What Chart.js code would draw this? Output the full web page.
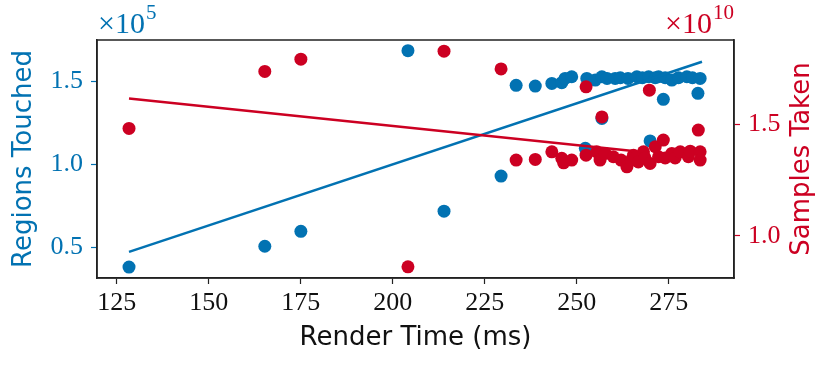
<!DOCTYPE html>
<html>
<head>
<meta charset="utf-8">
<script src="https://cdn.jsdelivr.net/npm/chart.js@4/dist/chart.umd.min.js"></script>
<style>
  html, body { margin: 0; padding: 0; background: #fff; }
</style>
</head>
<body>
<canvas id="chart" width="831" height="367"></canvas>
<script>
// render time (ms) and regions touched (x1e5)
const regionsX = [128.3, 165.2, 175.0, 204.1, 213.9, 229.4, 233.5, 238.7, 243.2, 245.9, 246.8, 248.6,
  252.3, 252.7, 255.0, 256.8, 256.8, 258.2, 260.4, 261.8, 263.9, 266.3, 267.8, 269.5, 269.9, 271.3,
  272.2, 273.5, 274.0, 275.8, 277.6, 279.9, 281.4, 282.9, 283.5];
const regionsY = [0.381, 0.506, 0.596, 1.683, 0.717, 0.928, 1.474, 1.470, 1.486, 1.490, 1.516, 1.526,
  1.095, 1.516, 1.506, 1.526, 1.275, 1.516, 1.516, 1.520, 1.516, 1.526, 1.520, 1.526, 1.140, 1.520,
  1.526, 1.390, 1.520, 1.506, 1.520, 1.526, 1.520, 1.426, 1.516];

// render time (ms) and samples taken (x1e10)
const samplesX = [128.3, 165.2, 175.0, 204.1, 213.9, 229.4, 233.5, 238.7, 243.2, 245.9, 246.4, 248.6,
  252.5, 252.5, 255.4, 256.3, 256.8, 257.7, 259.9, 262.0, 263.6, 264.8, 265.4, 266.7, 268.1, 268.5,
  269.7, 269.9, 271.3, 272.2, 273.5, 274.0, 275.8, 276.7, 278.1, 280.3, 280.8, 283.0, 283.5, 283.5];
const samplesY = [1.482, 1.738, 1.793, 0.861, 1.829, 1.749, 1.340, 1.343, 1.377, 1.348, 1.328, 1.340,
  1.669, 1.362, 1.377, 1.340, 1.534, 1.370, 1.355, 1.340, 1.310, 1.340, 1.362, 1.332, 1.377, 1.350,
  1.654, 1.325, 1.400, 1.355, 1.430, 1.350, 1.370, 1.350, 1.377, 1.355, 1.380, 1.475, 1.377, 1.340];

// fitted trend lines (end points)
const regionsFitX = [128.3, 284.0];
const regionsFitY = [0.472, 1.616];
const samplesFitX = [128.3, 265.3];
const samplesFitY = [1.617, 1.381];

const xTicks = [125, 150, 175, 200, 225, 250, 275];
const leftTicks = [0.5, 1.0, 1.5];
const rightTicks = [1.0, 1.5];

const BLUE = '#0272b2';
const RED = '#cc0022';

const pts = (xs, ys) => xs.map((x, i) => ({ x: x, y: ys[i] }));

const extras = {
  id: 'extras',
  afterDraw(chart) {
    const ctx = chart.ctx;
    const a = chart.chartArea;
    ctx.save();
    ctx.strokeStyle = '#222';
    ctx.lineWidth = 1.5;
    ctx.strokeRect(a.left, a.top, a.right - a.left, a.bottom - a.top);

    // exponent labels
    ctx.textBaseline = 'alphabetic';
    ctx.textAlign = 'left';
    ctx.font = '30px "Liberation Serif"';
    ctx.fillStyle = BLUE;
    ctx.fillText('×10', a.left + 1, a.top - 7);
    let w = ctx.measureText('×10').width;
    ctx.font = '21px "Liberation Serif"';
    ctx.fillText('5', a.left + 1 + w + 1, a.top - 21);

    ctx.fillStyle = RED;
    const w2 = ctx.measureText('10').width;
    ctx.font = '30px "Liberation Serif"';
    w = ctx.measureText('×10').width;
    const x0 = a.right - w - w2 - 1;
    ctx.fillText('×10', x0, a.top - 7);
    ctx.font = '21px "Liberation Serif"';
    ctx.fillText('10', x0 + w + 1, a.top - 21);

    // right axis title, reading bottom to top
    ctx.translate(802, (a.top + a.bottom) / 2);
    ctx.rotate(-Math.PI / 2);
    ctx.textAlign = 'center';
    ctx.textBaseline = 'middle';
    ctx.font = '26px "DejaVu Sans"';
    ctx.fillText('Samples Taken', 0, 0);
    ctx.restore();
  }
};

new Chart(document.getElementById('chart').getContext('2d'), {
  type: 'scatter',
  data: {
    datasets: [
      { data: pts(regionsX, regionsY), yAxisID: 'y', backgroundColor: BLUE, pointRadius: 6.5, borderWidth: 0, order: 4 },
      { data: pts(regionsFitX, regionsFitY), yAxisID: 'y', showLine: true, borderColor: BLUE, borderWidth: 2.5, pointRadius: 0, order: 3 },
      { data: pts(samplesX, samplesY), yAxisID: 'y2', backgroundColor: RED, pointRadius: 6.5, borderWidth: 0, order: 2 },
      { data: pts(samplesFitX, samplesFitY), yAxisID: 'y2', showLine: true, borderColor: RED, borderWidth: 2.5, pointRadius: 0, order: 1 }
    ]
  },
  options: {
    responsive: false,
    animation: false,
    layout: { padding: { top: 40, left: 0, right: 0, bottom: 0 } },
    plugins: { legend: { display: false }, tooltip: { enabled: false } },
    scales: {
      x: {
        type: 'linear', min: 119.6, max: 292.7,
        afterBuildTicks: s => { s.ticks = xTicks.map(v => ({ value: v })); },
        afterFit: s => { s.height = 89; },
        grid: { drawOnChartArea: false, tickLength: 6, tickColor: '#222', tickWidth: 1.2 },
        border: { color: '#222', width: 1.5 },
        ticks: { color: '#111', padding: 4, font: { family: 'Liberation Serif', size: 26 } },
        title: { display: true, text: 'Render Time (ms)', color: '#111', padding: { bottom: 13, top: 0 },
          font: { family: 'DejaVu Sans', size: 26 } }
      },
      y: {
        type: 'linear', position: 'left', min: 0.315, max: 1.747,
        afterBuildTicks: s => { s.ticks = leftTicks.map(v => ({ value: v })); },
        afterFit: s => { s.width = 97; },
        grid: { drawOnChartArea: false, tickLength: 6, tickColor: BLUE, tickWidth: 1.2 },
        border: { color: '#222', width: 1.5 },
        ticks: { color: BLUE, padding: 8, callback: v => v.toFixed(1), font: { family: 'Liberation Serif', size: 26 } },
        title: { display: true, text: 'Regions Touched', color: BLUE, padding: { top: 9, bottom: 0 },
          font: { family: 'DejaVu Sans', size: 26 } }
      },
      y2: {
        type: 'linear', position: 'right', min: 0.811, max: 1.879,
        afterBuildTicks: s => { s.ticks = rightTicks.map(v => ({ value: v })); },
        afterFit: s => { s.width = 97; },
        grid: { drawOnChartArea: false, tickLength: 6, tickColor: RED, tickWidth: 1.2 },
        border: { color: '#222', width: 1.5 },
        ticks: { color: RED, padding: 8, callback: v => v.toFixed(1), font: { family: 'Liberation Serif', size: 26 } }
      }
    }
  },
  plugins: [extras]
});
</script>
</body>
</html>
